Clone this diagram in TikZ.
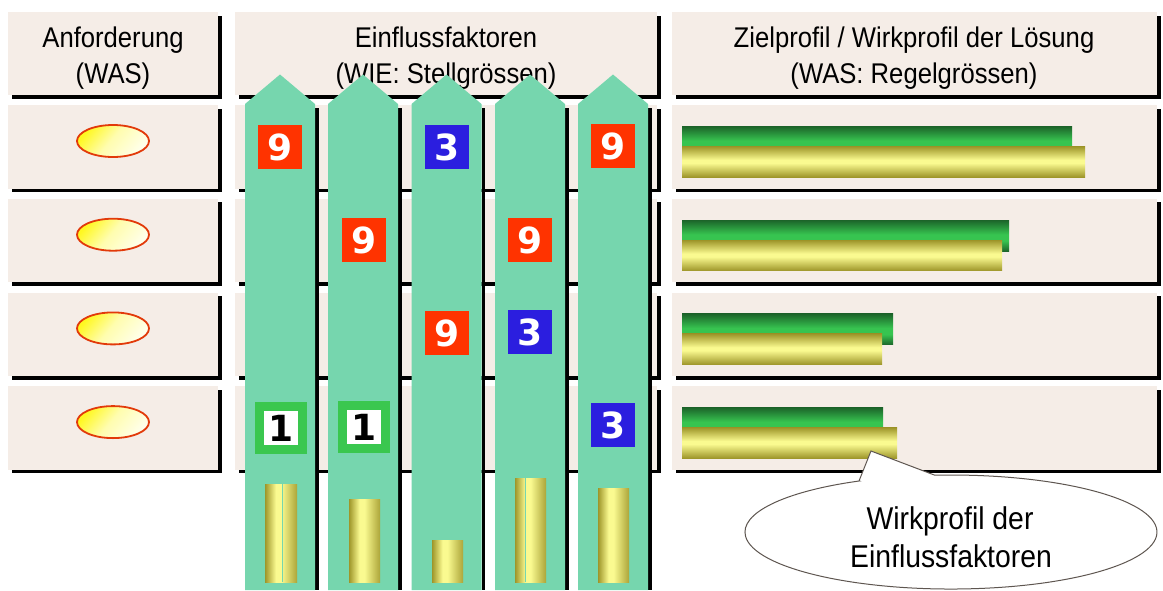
\documentclass[tikz,border=0pt]{standalone}
\usepackage{fontspec}
\setmainfont{Liberation Sans}
\newfontfamily\labelfont[FakeStretch=0.9]{Liberation Sans}
\newfontfamily\digitfont{DejaVu Sans}
\usetikzlibrary{shadows,shapes.geometric}

\definecolor{boxfill}{HTML}{F5EDE7}
\definecolor{arrowgreen}{HTML}{76D6AE}
\definecolor{badgered}{HTML}{FF3300}
\definecolor{badgeblue}{HTML}{2B1EDF}
\definecolor{badgegreen}{HTML}{3AC74F}
\definecolor{bardark}{HTML}{1C652A}
\definecolor{barbright}{HTML}{37C450}
\definecolor{yelolive}{HTML}{9E962A}
\definecolor{yelpale}{HTML}{FAFA90}
\definecolor{ellred}{HTML}{E23A0A}
\definecolor{ellyellow}{HTML}{FFF820}
\definecolor{ellwhite}{HTML}{FFFFEC}
\definecolor{calloutline}{HTML}{5E5650}

% bar and cylinder gradients (path occupies 25bp..75bp)
\pgfdeclareverticalshading{greenbar}{100bp}{color(0bp)=(bardark); color(25bp)=(bardark);
  color(42bp)=(barbright); color(52bp)=(barbright); color(75bp)=(bardark); color(100bp)=(bardark)}
\pgfdeclareverticalshading{yellowbar}{100bp}{color(0bp)=(yelolive); color(25bp)=(yelolive);
  color(48bp)=(yelpale); color(53bp)=(yelpale); color(75bp)=(yelolive); color(100bp)=(yelolive)}
\pgfdeclarehorizontalshading{cylshade}{100bp}{color(0bp)=(yelolive); color(25bp)=(yelolive);
  color(42bp)=(yelpale); color(50bp)=(yelpale); color(75bp)=(yelolive!85!yelpale); color(100bp)=(yelolive!85!yelpale)}
% requirement mark: yellow glow in the upper left corner fading to cream
\pgfdeclareverticalshading{reqglow}{100bp}{color(0bp)=(ellwhite); color(25bp)=(ellwhite);
  color(52bp)=(ellwhite!70!ellyellow); color(75bp)=(ellyellow); color(100bp)=(ellyellow)}

\tikzset{
  panel/.style={fill=boxfill, draw=none, inner sep=0pt, anchor=north west,
    drop shadow={fill=black, opacity=1, shadow xshift=3.5pt, shadow yshift=-3.5pt}},
  hdrtext/.style={font=\labelfont\fontsize{28.5}{34}\selectfont, anchor=base, inner sep=0pt},
  calltext/.style={font=\labelfont\fontsize{31.5}{38}\selectfont, anchor=base, inner sep=0pt},
  reqmark/.style={ellipse, draw=ellred, line width=1.8pt, minimum width=72pt, minimum height=32pt,
    inner sep=0pt, shading=reqglow, shading angle=50},
  badge/.style={minimum size=44pt, inner sep=0pt, text=white,
    font=\digitfont\bfseries\fontsize{36}{36}\selectfont},
  nine/.style={badge, fill=badgered},
  three/.style={badge, fill=badgeblue},
  one/.style={badge, fill=white, draw=badgegreen, line width=8.5pt, minimum size=43pt, text=black},
  arrowshadow/.style={fill=black},
  arrowbody/.style={fill=arrowgreen},
  cylinder bar/.style={shading=cylshade},
  seam/.style={draw=arrowgreen, line width=0.8pt},
  callout/.style={draw=calloutline, line width=1pt, fill=white}
}

\begin{document}
\begin{tikzpicture}[x=1pt,y=-1pt]
\useasboundingbox (0,0) rectangle (1163,590);
\fill[white] (0,0) rectangle (1163,590);

% header panels
\node[panel, minimum width=210pt, minimum height=83pt] (hdrA) at (8,12) {};
\node[panel, minimum width=422pt, minimum height=83pt] (hdrB) at (235,12) {};
\node[panel, minimum width=485pt, minimum height=83pt] (hdrC) at (672,12) {};
\node[hdrtext] (hdrAtop) at (113,47) {Anforderung};
\node[hdrtext] (hdrAbot) at (113,83) {(WAS)};
\node[hdrtext] (hdrBtop) at (446,47) {Einflussfaktoren};
\node[hdrtext] (hdrBbot) at (446,83) {(WIE: Stellgrössen)};
\node[hdrtext] (hdrCtop) at (914,47) {Zielprofil / Wirkprofil der Lösung};
\node[hdrtext] (hdrCbot) at (914,83) {(WAS: Regelgrössen)};

% row panels with requirement marks
\foreach \r/\t in {1/105, 2/198.7, 3/292.4, 4/386.1}{
  \node[panel, minimum width=210pt, minimum height=83.5pt] (rowA\r) at (8,\t) {};
  \node[panel, minimum width=422pt, minimum height=83.5pt] (rowB\r) at (235,\t) {};
  \node[panel, minimum width=485pt, minimum height=83.5pt] (rowC\r) at (672,\t) {};
  \node[reqmark] (req\r) at (113,\t+36) {};
}

% influence factor columns
\foreach \c/\x in {1/245, 2/328, 3/411.5, 4/495, 5/578}{
  \fill[arrowshadow] (\x+70,108) rectangle (\x+73.5,590);
  \fill[arrowbody] (\x,104) -- (\x+35,74.5) -- (\x+70,104) -- (\x+70,590) -- (\x,590) -- cycle;
}

% weighting badges
\node[nine]  (b11) at (280,147) {9};
\node[one]   (b14) at (281,428) {1};
\node[nine]  (b22) at (364,240) {9};
\node[one]   (b24) at (364,427) {1};
\node[three] (b31) at (447,147) {3};
\node[nine]  (b33) at (447,333) {9};
\node[nine]  (b42) at (530,240) {9};
\node[three] (b43) at (530,332) {3};
\node[nine]  (b51) at (613,146) {9};
\node[three] (b54) at (613,425) {3};

% column totals
\shade[cylinder bar] (265,484) rectangle (297,582);
\draw[seam] (282,484) -- (282,582);
\shade[cylinder bar] (349,499) rectangle (380,582);
\shade[cylinder bar] (432,540) rectangle (463,582);
\shade[cylinder bar] (515,478) rectangle (546,582);
\draw[seam] (525,478) -- (525,582);
\shade[cylinder bar] (598,488) rectangle (629,582);

% target and effect profiles
\foreach \t/\g/\y in {105/1072/1085, 198.7/1009/1002, 292.4/893/882, 386.1/883/897}{
  \shade[shading=greenbar] (682,\t+21.5) rectangle (\g,\t+52.5);
  \shade[shading=yellowbar] (682,\t+41.5) rectangle (\y,\t+72);
}

% callout
\coordinate (ctip) at (871,451);
\coordinate (cbL) at (859,481);
\coordinate (cbR) at (934.8,475.2);
\draw[callout] (cbL) -- (ctip) -- (cbR)
  arc[start angle=94.5, end angle=-243.5, x radius=206pt, y radius=57pt] -- cycle;
\node[calltext] (call1) at (950,529) {Wirkprofil der};
\node[calltext] (call2) at (951,567) {Einflussfaktoren};
\end{tikzpicture}
\end{document}
